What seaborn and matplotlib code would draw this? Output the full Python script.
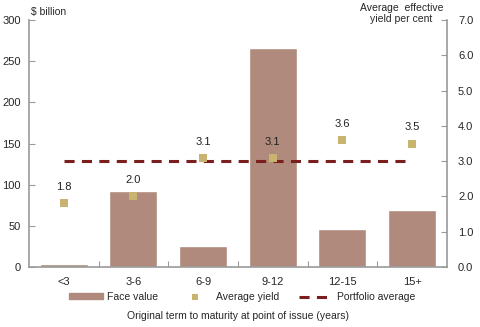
import numpy as np
import pandas as pd
import matplotlib
matplotlib.use('Agg')
import matplotlib.pyplot as plt
import seaborn as sns

# data
terms = ['<3', '3-6', '6-9', '9-12', '12-15', '15+']
face_value = [3.5, 92, 26, 266, 46, 69]         # $ billion
avg_yield = [1.8, 2.0, 3.1, 3.1, 3.6, 3.5]      # per cent
portfolio_avg = [3.0, 3.0, 3.0, 3.0, 3.0, 3.0]  # per cent

bar_color = '#B08A7C'
yield_color = '#C8B46E'
line_color = '#7A1E1E'
spine_color = '#9A9A9A'

sns.set_style('ticks')
plt.rcParams['font.family'] = ['Liberation Sans', 'DejaVu Sans']
plt.rcParams['font.size'] = 8

df = pd.DataFrame({'term': terms, 'face': face_value,
                   'yield': avg_yield, 'avg': portfolio_avg})

fig = plt.figure(figsize=(4.8, 3.27), dpi=100)
ax = fig.add_axes([0.0604, 0.1835, 0.8706, 0.7553])

sns.barplot(data=df, x='term', y='face', color=bar_color, width=0.69,
            saturation=1, ax=ax)
ax.set_xlim(-0.5, 5.5)
ax.set_ylim(0, 300)
ax.set_yticks(np.arange(0, 301, 50))
ax.set_xlabel('')
ax.set_ylabel('')

ax2 = ax.twinx()
ax2.set_position(ax.get_position())
xs = np.arange(len(terms))
ax2.plot(xs, df['avg'], color=line_color, lw=2.2, dashes=(3.3, 2.4),
         zorder=2)
ax2.scatter(xs, df['yield'], marker='s', s=26, color=yield_color,
            zorder=3, linewidths=0)
for x, v in zip(xs, avg_yield):
    ax2.annotate(f'{v:.1f}', (x, v), xytext=(0, 8), textcoords='offset points',
                 ha='center', va='bottom', fontsize=8, color='#222222')
ax2.set_ylim(0, 7)
ax2.set_yticks(np.arange(0, 7.01, 1.0))
ax2.set_yticklabels([f'{v:.1f}' for v in np.arange(0, 7.01, 1.0)])

# x ticks sit on category boundaries, labels at centres
ax.set_xticks(np.arange(0.5, 5, 1.0))
ax.set_xticklabels([])
ax.set_xticks(xs, minor=True)
ax.set_xticklabels(terms, minor=True)
ax.tick_params(axis='x', which='minor', length=0, pad=7, labelsize=8)
ax.tick_params(axis='x', which='major', direction='in', length=4, color=spine_color)
ax.tick_params(axis='y', direction='in', length=4, color=spine_color, pad=6, labelsize=8)
ax2.tick_params(axis='y', direction='in', length=4, color=spine_color, pad=8, labelsize=8)

for a in (ax, ax2):
    a.spines['top'].set_visible(False)
    for s in ('left', 'right', 'bottom'):
        a.spines[s].set_color(spine_color)
        a.spines[s].set_linewidth(1.2)
ax.spines['right'].set_visible(False)
ax2.spines['left'].set_visible(False)
ax2.spines['bottom'].set_visible(False)

fig.text(0.065, 0.98, '$ billion', ha='left', va='top', fontsize=7.5)
fig.text(0.923, 0.99, 'Average  effective\nyield per cent', ha='right', va='top',
         multialignment='center', fontsize=7.5, linespacing=1.15)

handles = [plt.Rectangle((0, 0), 1, 1, color=bar_color),
           plt.Line2D([], [], ls='none', marker='s', ms=5, mew=0, color=yield_color),
           plt.Line2D([], [], color=line_color, lw=2.2, dashes=(3.3, 2.4))]
labels = ['Face value', 'Average yield', 'Portfolio average']
fig.legend(handles, labels, loc='center', bbox_to_anchor=(0.505, 0.092), ncol=3,
           frameon=False, handlelength=3.2, handleheight=0.5, columnspacing=1.9,
           handletextpad=0.45, fontsize=7.5)
fig.text(0.495, 0.033, 'Original term to maturity at point of issue (years)',
         ha='center', va='center', fontsize=7.5)

fig.savefig('out.png', dpi=100)
